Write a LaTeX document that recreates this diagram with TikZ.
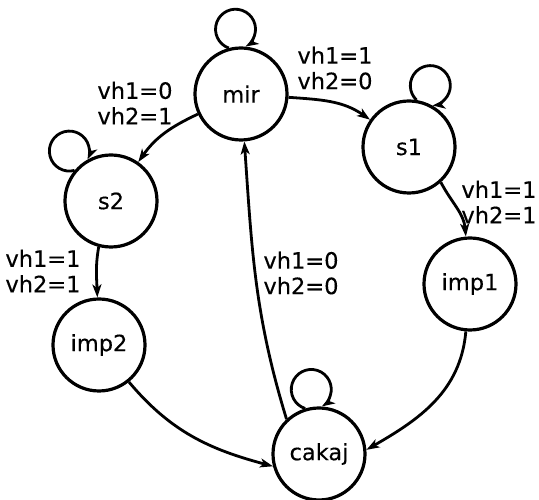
\documentclass[tikz,border=0pt]{standalone}
\usepackage{fontspec}
\newfontfamily\diagfont{DejaVu Sans}[FakeBold=0.3]
\usetikzlibrary{arrows.meta}
\begin{document}
\begin{tikzpicture}[x=1pt,y=1pt,
  state/.style={circle,draw,line width=3.2pt,minimum size=92pt,inner sep=0pt,
    font=\diagfont\fontsize{22.5}{26}\selectfont},
  cond/.style={align=left,inner sep=0pt,font=\diagfont\fontsize{22.5}{25.5}\selectfont},
  trans/.style={line width=2.8pt,-{Stealth[length=13pt,width=9pt,inset=3.5pt]}},
]
\useasboundingbox (0,0) rectangle (539,500);

% states
\node[state] (mir)   at (241,406) {mir};
\node[state] (s1)    at (409,353) {s1};
\node[state] (s2)    at (111,299) {s2};
\node[state] (imp1)  at (470,216) {imp1};
\node[state] (imp2)  at (99,155)  {imp2};
\node[state] (cakaj) at (319,46)  {cakaj};

% self loops
\draw[trans] (mir.105.5)  arc[start angle=250, delta angle=-310, radius=20];
\draw[trans] (s1.81.5)    arc[start angle=226, delta angle=-310, radius=20];
\draw[trans] (s2.140.5)   arc[start angle=285, delta angle=-310, radius=20];
\draw[trans] (cakaj.107.5) arc[start angle=252, delta angle=-310, radius=20];

% transitions
\draw[trans] (mir) to[out=-4, in=145] (s1);
\draw[trans] (mir) to[out=205, in=55] (s2);
\draw[trans] (s1.-48) to[out=-62, in=95] (imp1);
\draw[trans] (s2.-105) to[out=-100, in=92] (imp2);
\draw[trans] (imp1.-95) to[out=-95, in=30] (cakaj.5);
\draw[trans] (imp2.-51) to[out=-50, in=165] (cakaj.195);
\draw[trans] (cakaj.133) to[out=107, in=-86] (mir.-86);

% conditions
\node[cond] (cA) at (335,432) {vh1=1\\vh2=0};
\node[cond] (cB) at (135,397) {vh1=0\\vh2=1};
\node[cond] (cC) at (499,298) {vh1=1\\vh2=1};
\node[cond] (cD) at (43,229)  {vh1=1\\vh2=1};
\node[cond] (cE) at (301,227) {vh1=0\\vh2=0};
\end{tikzpicture}
\end{document}
